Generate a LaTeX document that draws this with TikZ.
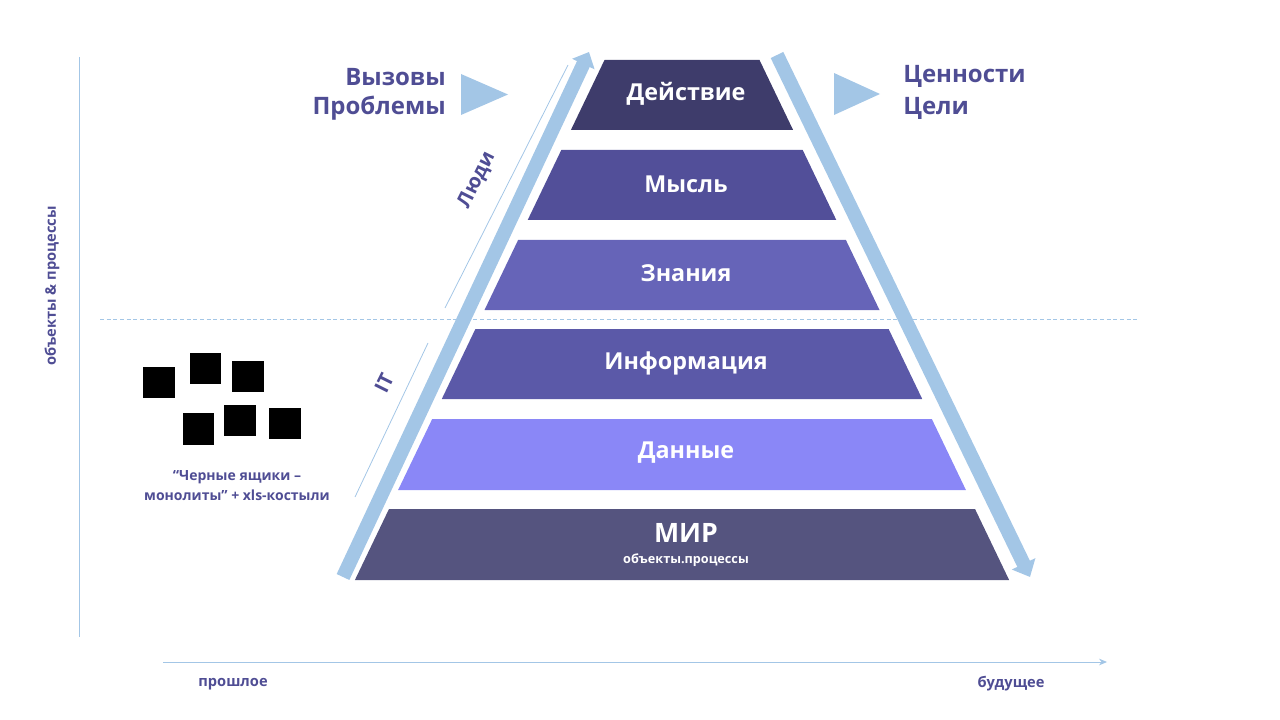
\documentclass[tikz,border=0pt]{standalone}
\usepackage{fontspec}
\setmainfont{Open Sans}
\usetikzlibrary{arrows.meta}
\definecolor{txt}{HTML}{4F4D94}
\definecolor{lblue}{HTML}{A3C6E6}
\definecolor{cA}{HTML}{3E3C6B}
\definecolor{cB}{HTML}{524F99}
\definecolor{cC}{HTML}{6664B8}
\definecolor{cD}{HTML}{5B59A8}
\definecolor{cE}{HTML}{8A87F7}
\definecolor{cF}{HTML}{55547F}
\tikzset{
  lvltext/.style={text=white,font=\bfseries\fontsize{17.5}{19}\selectfont,inner sep=0pt},
  sidetext/.style={text=txt,font=\bfseries\fontsize{18}{20}\selectfont,inner sep=0pt},
  smalltext/.style={text=txt,font=\bfseries\fontsize{11}{13}\selectfont,inner sep=0pt},
  bigarrow/.style={draw=lblue,line width=10.5pt},
  thinline/.style={draw=lblue,line width=0.6pt},
  blackbox/.style={fill=black},
  tri/.style={fill=lblue}
}
\begin{document}
\begin{tikzpicture}[x=0.75pt,y=-0.75pt]
\useasboundingbox (0,0) rectangle (1280,720);
% axes
\draw[thinline] (79,57) -- (79,637);
\coordinate (xs) at (163,662);
\coordinate (xe) at (1107,662);
\draw[thinline,-{Stealth[length=6pt,width=5pt]}] (xs) -- (xe);
\draw[thinline,dash pattern=on 3pt off 2pt] (100,319) -- (1137,319);
% pyramid levels: center 682, hw(y)=77.5+0.48*(y-60)
\foreach \yt/\yb/\c in {60/130/cA,150/220/cB,240/310/cC,329/399/cD,419/490/cE,509/580/cF}{
  \pgfmathsetmacro{\ht}{77.5+0.48*(\yt-60)}
  \pgfmathsetmacro{\hb}{77.5+0.48*(\yb-60)}
  \fill[\c] (682-\ht,\yt) -- (682+\ht,\yt) -- (682+\hb,\yb) -- (682-\hb,\yb) -- cycle;
}
\node[lvltext] (l1) at (686,94) {Действие};
\node[lvltext] (l2) at (686,184) {Мысль};
\node[lvltext] (l3) at (686,273) {Знания};
\node[lvltext] (l4) at (686,363) {Информация};
\node[lvltext] (l5) at (686,453) {Данные};
\node[lvltext,font=\bfseries\fontsize{20}{22}\selectfont] (l6) at (686,533) {МИР};
\node[lvltext,font=\bfseries\fontsize{9.5}{11}\selectfont] (l6s) at (686,560) {объекты.процессы};
% big arrows
\coordinate (la1) at (343,577);
\coordinate (la2) at (589,52);
\draw[bigarrow,-{Triangle[width=18pt,length=10pt]}] (la1) -- (la2);
\coordinate (ra1) at (777,55);
\coordinate (ra2) at (1030,577);
\draw[bigarrow,-{Triangle[width=19pt,length=11pt]}] (ra1) -- (ra2);
% thin lines
\coordinate (t1a) at (445,308);
\coordinate (t1b) at (568,65);
\draw[thinline] (t1a) -- (t1b);
\coordinate (t2a) at (355,497);
\coordinate (t2b) at (428,343);
\draw[thinline] (t2a) -- (t2b);
\node[sidetext,rotate=63.5,font=\bfseries\fontsize{15}{17}\selectfont] (ppl) at (477,180) {Люди};
\node[sidetext,rotate=63.5,font=\bfseries\fontsize{15}{17}\selectfont] (it) at (384,383) {IT};
% triangles
\fill[tri] (461,74) -- (461,115) -- (508,94.5) -- cycle;
\fill[tri] (834,73) -- (834,115) -- (880,94) -- cycle;
\node[sidetext,anchor=east] (v1) at (446,77) {Вызовы};
\node[sidetext,anchor=east] (v2) at (446,108) {Проблемы};
\node[sidetext,anchor=west] (c1) at (903,76) {Ценности};
\node[sidetext,anchor=west] (c2) at (903,108) {Цели};
% black boxes
\fill[blackbox] (143,367) rectangle (175,398);
\fill[blackbox] (190,353) rectangle (221,384);
\fill[blackbox] (232,361) rectangle (264,392);
\fill[blackbox] (183,413) rectangle (214,445);
\fill[blackbox] (224,405) rectangle (256,436);
\fill[blackbox] (269,408) rectangle (301,439);
\node[smalltext,align=center,font=\bfseries\fontsize{10.5}{15}\selectfont] (bb) at (237,486) {“Черные ящики –\\монолиты” + xls-костыли};
% axis labels
\node[smalltext,rotate=90] (yl) at (52,286) {объекты \& процессы};
\node[smalltext] (past) at (233,684) {прошлое};
\node[smalltext] (fut) at (1011,684) {будущее};
\end{tikzpicture}
\end{document}
